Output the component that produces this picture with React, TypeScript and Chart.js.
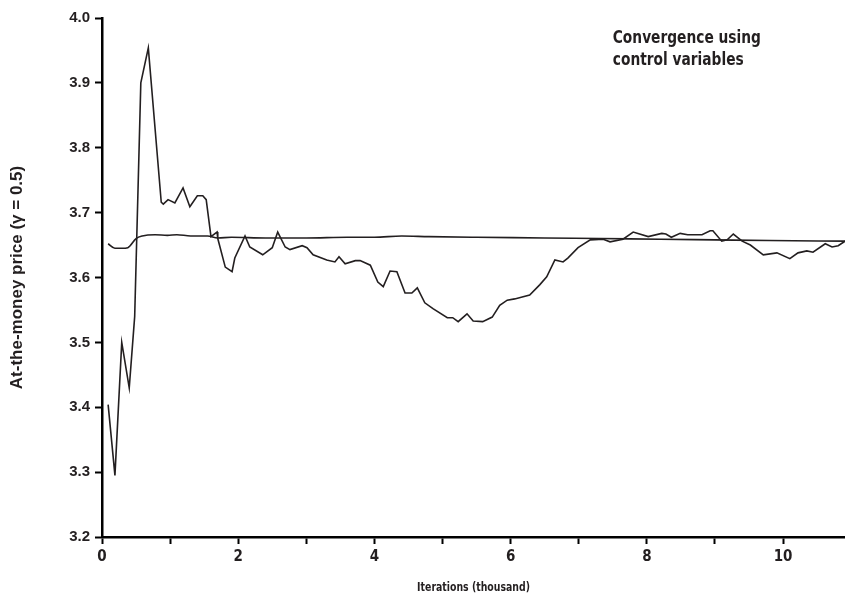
import React, { useEffect, useRef } from "react";
import { Chart, registerables } from "chart.js";

Chart.register(...registerables);

// Noisy Monte Carlo estimate (x in thousand iterations)
const noisyX = [0.09, 0.19, 0.29, 0.4, 0.48, 0.57, 0.68, 0.87, 0.9, 0.97, 1.07, 1.19, 1.29, 1.4, 1.48, 1.53, 1.6, 1.69, 1.7, 1.81, 1.91, 1.95, 2.1, 2.17, 2.36, 2.5, 2.58, 2.69, 2.76, 2.94, 3.01, 3.1, 3.3, 3.42, 3.48, 3.57, 3.72, 3.79, 3.94, 4.05, 4.13, 4.23, 4.33, 4.45, 4.55, 4.63, 4.74, 4.86, 5.07, 5.15, 5.23, 5.36, 5.45, 5.59, 5.73, 5.84, 5.95, 6.06, 6.17, 6.28, 6.43, 6.53, 6.65, 6.77, 6.84, 6.99, 7.17, 7.36, 7.46, 7.65, 7.8, 8.02, 8.22, 8.28, 8.36, 8.49, 8.6, 8.81, 8.93, 8.97, 9.1, 9.18, 9.27, 9.4, 9.52, 9.71, 9.91, 10.1, 10.22, 10.35, 10.44, 10.62, 10.72, 10.81, 10.91];
const noisyY = [3.404, 3.295, 3.5, 3.43, 3.54, 3.9, 3.954, 3.716, 3.713, 3.72, 3.715, 3.738, 3.709, 3.726, 3.726, 3.72, 3.663, 3.67, 3.66, 3.616, 3.609, 3.63, 3.664, 3.647, 3.635, 3.646, 3.67, 3.647, 3.643, 3.649, 3.646, 3.635, 3.627, 3.624, 3.632, 3.621, 3.626, 3.626, 3.619, 3.593, 3.586, 3.61, 3.609, 3.576, 3.576, 3.584, 3.561, 3.552, 3.538, 3.538, 3.532, 3.544, 3.533, 3.532, 3.539, 3.557, 3.565, 3.567, 3.57, 3.573, 3.589, 3.601, 3.627, 3.624, 3.63, 3.646, 3.658, 3.659, 3.655, 3.659, 3.67, 3.663, 3.668, 3.667, 3.662, 3.668, 3.666, 3.666, 3.672, 3.672, 3.656, 3.658, 3.667, 3.656, 3.65, 3.635, 3.638, 3.629, 3.638, 3.641, 3.639, 3.652, 3.647, 3.649, 3.656];

// Control-variate estimate
const controlX = [0.09, 0.19, 0.29, 0.38, 0.5, 0.59, 0.78, 0.96, 1.1, 1.3, 1.55, 1.7, 1.9, 2.4, 3.0, 3.6, 4.0, 4.4, 4.8, 5.5, 6.5, 7.3, 8.2, 9.0, 9.8, 10.91];
const controlY = [3.652, 3.645, 3.645, 3.646, 3.66, 3.664, 3.666, 3.665, 3.666, 3.664, 3.664, 3.661, 3.662, 3.661, 3.661, 3.662, 3.662, 3.664, 3.663, 3.662, 3.661, 3.66, 3.659, 3.658, 3.657, 3.656];

const yTicksMin = 3.2;
const yTicksMax = 4.0;
const xMin = 0;
const xMax = 10.91;

const annotationLines = ["Convergence using", "control variables"];
const annotationAt = { x: 7.5, y: 3.968 };

const xTitle = "Iterations (thousand)";
const yTitle = "At-the-money price (\u03B3 = 0.5)";

const NARROW = "'Liberation Sans Narrow', 'DejaVu Sans Condensed', 'Arial Narrow', sans-serif";
const SANS = "'Liberation Sans', Arial, Helvetica, sans-serif";

export default function App() {
  const ref = useRef<HTMLCanvasElement | null>(null);

  useEffect(() => {
    if (!ref.current) return;
    const ink = "#231f20";

    const textPlugin = {
      id: "texts",
      afterDatasetsDraw(chart: any) {
        const { ctx, scales, chartArea, height } = chart;
        ctx.save();
        ctx.fillStyle = ink;
        // annotation
        const x = scales.x.getPixelForValue(annotationAt.x);
        const y = scales.y.getPixelForValue(annotationAt.y);
        ctx.font = `bold 18px ${NARROW}`;
        ctx.textAlign = "left";
        ctx.textBaseline = "middle";
        ctx.save();
        ctx.translate(x, y);
        ctx.scale(0.85, 1);
        annotationLines.forEach((t, i) => ctx.fillText(t, 0, i * 22));
        ctx.restore();
        // x axis title (condensed)
        ctx.font = `bold 13px ${NARROW}`;
        ctx.textAlign = "center";
        ctx.save();
        ctx.translate((chartArea.left + chartArea.right) / 2, height - 19);
        ctx.scale(0.8, 1);
        ctx.fillText(xTitle, 0, 0);
        ctx.restore();
        ctx.restore();
      },
    };

    const chart = new Chart(ref.current, {
      type: "line",
      data: {
        datasets: [
          {
            data: noisyX.map((x, i) => ({ x, y: noisyY[i] })),
            borderColor: ink,
            borderWidth: 1.6,
            pointRadius: 0,
            tension: 0,
            fill: false,
          },
          {
            data: controlX.map((x, i) => ({ x, y: controlY[i] })),
            borderColor: ink,
            borderWidth: 1.6,
            pointRadius: 0,
            cubicInterpolationMode: "monotone",
            fill: false,
          },
        ],
      },
      options: {
        responsive: false,
        animation: false,
        events: [],
        layout: { padding: { top: 18, right: 0, left: 0, bottom: 0 } },
        plugins: { legend: { display: false }, tooltip: { enabled: false } },
        scales: {
          x: {
            type: "linear",
            min: xMin,
            max: xMax,
            border: { display: true, color: "#000", width: 2.5 },
            grid: { drawOnChartArea: false, drawTicks: true, tickLength: 7, tickColor: "#000", tickWidth: 2 },
            ticks: {
              stepSize: 1,
              includeBounds: false,
              autoSkip: false,
              maxRotation: 0,
              padding: 4,
              color: ink,
              font: { family: NARROW, size: 15, weight: "bold" },
              callback: (v: any) => (Number(v) % 2 === 0 ? String(v) : ""),
            },
            title: { display: false },
            afterFit: (s: any) => {
              s.height = 70;
            },
          },
          y: {
            type: "linear",
            min: yTicksMin,
            max: yTicksMax,
            border: { display: true, color: "#000", width: 2.5 },
            grid: { drawOnChartArea: false, drawTicks: true, tickLength: 7, tickColor: "#000", tickWidth: 2 },
            ticks: {
              stepSize: 0.1,
              padding: 5,
              color: ink,
              font: { family: SANS, size: 15, weight: "bold" },
              callback: (v: any) => Number(v).toFixed(1),
            },
            title: {
              display: true,
              text: yTitle,
              color: ink,
              font: { family: SANS, size: 17, weight: "bold" },
              padding: { top: 7, bottom: 0 },
            },
            afterFit: (s: any) => {
              s.width = 102;
            },
          },
        },
      },
      plugins: [textPlugin],
    });
    return () => chart.destroy();
  }, []);

  return (
    <div style={{ position: "absolute", left: 0, top: 0, width: 845, height: 607, background: "#fff" }}>
      <canvas ref={ref} width={845} height={607} style={{ display: "block" }} />
    </div>
  );
}
